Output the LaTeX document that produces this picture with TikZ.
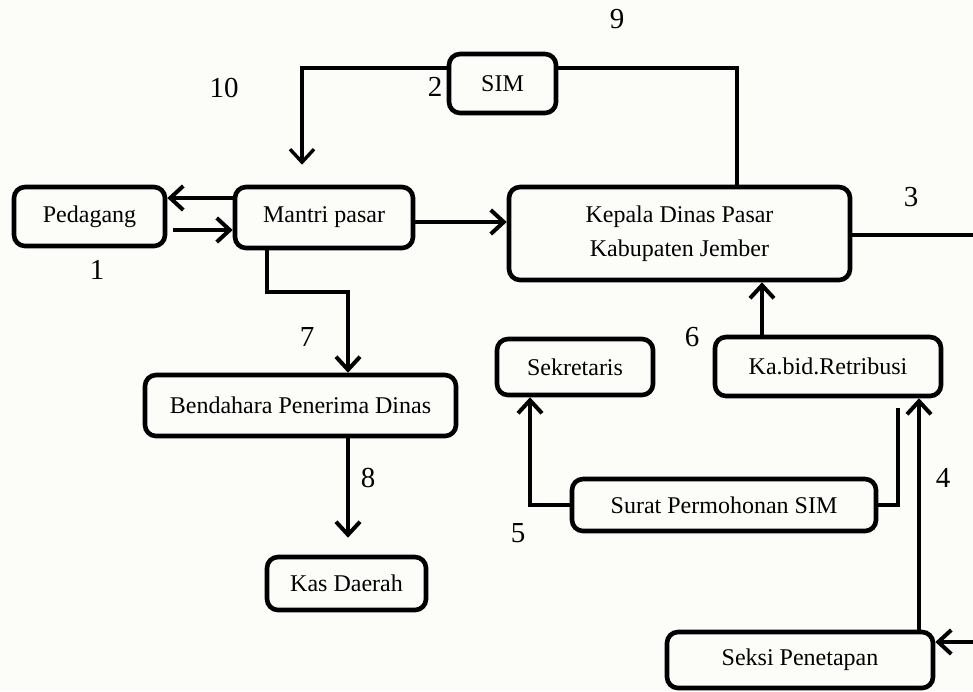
\documentclass[tikz,border=0pt]{standalone}
\usepackage{fontspec}
\setmainfont{Liberation Serif}
\usetikzlibrary{arrows.meta}
\definecolor{pagebg}{RGB}{252,252,249}
\tikzset{
  procbox/.style={
    draw=black,
    fill=pagebg,
    line width=4.6pt,
    rounded corners=11pt,
    align=center,
    inner sep=0pt,
    font=\fontsize{24}{34}\selectfont
  },
  flowline/.style={
    draw=black,
    line width=4pt
  },
  flowarrow/.style={
    flowline,
    -{Straight Barb[length=13pt,width=24pt]}
  },
  steplabel/.style={
    inner sep=0pt,
    font=\fontsize{29}{34}\selectfont
  }
}

\begin{document}
\begin{tikzpicture}[x=1pt,y=-1pt]

  % Page area with the reference margins.
  \fill[pagebg] (0,0) rectangle (973,691);
  \useasboundingbox (0,0) rectangle (973,691);
  \clip (0,0) rectangle (973,691);

  % Boxes of the collection flow.
  \node[procbox,minimum width=151,minimum height=59] (pedagang)   at ( 89.5,216.5) {Pedagang};
  \node[procbox,minimum width=178,minimum height=61] (mantri)     at (324.0,217.5) {Mantri pasar};
  \node[procbox,minimum width=341,minimum height=93] (kepala)     at (679.5,233.5) {Kepala Dinas Pasar\\Kabupaten Jember};
  \node[procbox,minimum width=107,minimum height=59] (sim)        at (502.5, 83.5) {SIM};
  \node[procbox,minimum width=311,minimum height=61] (bendahara)  at (300.5,405.5) {Bendahara Penerima Dinas};
  \node[procbox,minimum width=159,minimum height=53] (kas)        at (346.5,583.5) {Kas Daerah};
  \node[procbox,minimum width=156,minimum height=56] (sekretaris) at (575.0,367.0) {Sekretaris};
  \node[procbox,minimum width=226,minimum height=59] (kabid)      at (828.0,366.5) {Ka.bid.Retribusi};
  \node[procbox,minimum width=304,minimum height=52] (surat)      at (724.0,505.0) {Surat Permohonan SIM};
  \node[procbox,minimum width=266,minimum height=56] (seksi)      at (800.0,660.0) {Seksi Penetapan};

  % Helper points for the bends and the rail beyond the right margin.
  \coordinate (pedout)    at (173,230);
  \coordinate (mbend)     at (267,292);
  \coordinate (rightrail) at (990,642);

  % Pedagang and Mantri pasar.
  \draw[flowarrow] (mantri.west |- 0,198) -- (pedagang.east |- 0,198);
  \draw[flowarrow] (pedout) -- (mantri.west |- pedout);
  \draw[flowarrow] (mantri.east |- 0,222) -- (kepala.west |- 0,222);

  % SIM returned from the head of office down to Mantri pasar.
  \draw[flowline] (kepala.north -| 737,0) |- (sim.east |- 0,68);
  \draw[flowarrow,line width=3.4pt,shorten >=20pt] (sim.west |- 0,68) -| (mantri.north -| 302,0);

  % Deposit of the money.
  \draw[flowarrow] (mantri.south -| mbend) -- (mbend) -| (bendahara.north -| 348,0);
  \draw[flowarrow,shorten >=17pt] (bendahara.south -| 348,0) -- (kas.north -| 348,0);

  % Right-hand loop through Seksi Penetapan.
  \draw[flowarrow] (kepala.east |- 0,235) -| (rightrail) -- (seksi.east |- rightrail);
  \draw[flowarrow] (seksi.north -| 919,0) -- (kabid.south -| 919,0);
  \draw[flowarrow] (kabid.north -| 762,0) -- (kepala.south -| 762,0);

  % Application letter.
  \draw[flowarrow] (surat.west) -| (sekretaris.south -| 530,0);
  \draw[flowline,shorten >=10pt] (surat.east) -| (kabid.south -| 898,0);

  % Step numbers.
  \node[steplabel] (n1)  at ( 97,270) {1};
  \node[steplabel] (n2)  at (435, 87) {2};
  \node[steplabel] (n3)  at (911,197) {3};
  \node[steplabel] (n4)  at (943,478) {4};
  \node[steplabel] (n5)  at (518,533) {5};
  \node[steplabel] (n6)  at (692,337) {6};
  \node[steplabel] (n7)  at (307,337) {7};
  \node[steplabel] (n8)  at (368,478) {8};
  \node[steplabel] (n9)  at (617, 19) {9};
  \node[steplabel] (n10) at (224, 88) {10};

\end{tikzpicture}
\end{document}
